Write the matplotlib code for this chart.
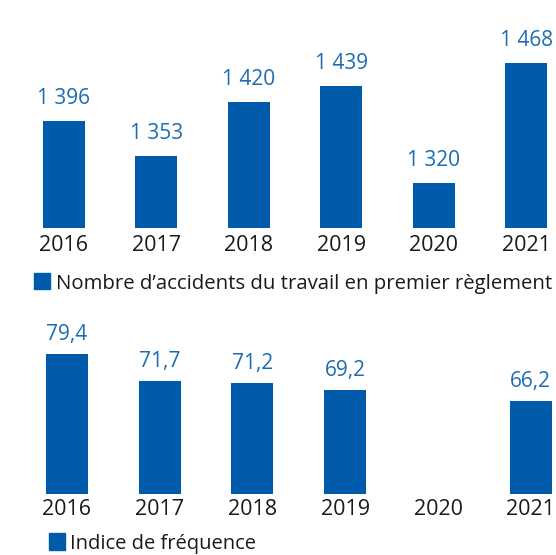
import matplotlib.pyplot as plt
from matplotlib.patches import Rectangle
import numpy as np

plt.rcParams['font.family'] = ['Open Sans', 'DejaVu Sans']

# Data
years = ['2016', '2017', '2018', '2019', '2020', '2021']
accidents = [1396, 1353, 1420, 1439, 1320, 1468]
frequency = [79.4, 71.7, 71.2, 69.2, np.nan, 66.2]
accidents_labels = ['1 396', '1 353', '1 420', '1 439', '1 320', '1 468']
frequency_labels = ['79,4', '71,7', '71,2', '69,2', '', '66,2']
legend_top = 'Nombre d\u2019accidents du travail en premier règlement'
legend_bottom = 'Indice de fréquence'

bar_color = '#005BAA'
value_color = '#1C6CB4'
text_color = '#1a1a1a'

W, H = 556, 555
fig = plt.figure(figsize=(W / 100, H / 100), dpi=100)


def fx(px):
    return px / W


def fy(py):
    return 1 - py / H


x = np.arange(len(years))

# Top panel: accidents
ax1 = fig.add_axes([0, fy(228), 1, 228 / H])
ax1.bar(x, accidents, width=0.454, color=bar_color)
ax1.set_xlim(-0.687, 5.319)
ax1.set_ylim(1265, 1545)
for i, v in enumerate(accidents):
    ax1.annotate(accidents_labels[i], (x[i], v), xytext=(0, 12.2),
                 textcoords='offset points', ha='center', va='baseline',
                 fontsize=15, color=value_color)
    ax1.annotate(years[i], (x[i], 0), xycoords=('data', 'axes fraction'),
                 xytext=(0, -16.6), textcoords='offset points',
                 ha='center', va='baseline', fontsize=15.5, color=text_color)
ax1.axis('off')

# Bottom panel: frequency index
ax2 = fig.add_axes([0, fy(494), 1, 194 / H])
ax2.bar(x, frequency, width=0.452, color=bar_color)
ax2.set_xlim(-0.7185, 5.271)
ax2.set_ylim(39.85, 94.65)
for i, v in enumerate(frequency):
    if not np.isnan(v):
        ax2.annotate(frequency_labels[i], (x[i], v), xytext=(0, 10),
                     textcoords='offset points', ha='center', va='baseline',
                     fontsize=15, color=value_color)
    ax2.annotate(years[i], (x[i], 0), xycoords=('data', 'axes fraction'),
                 xytext=(0, -15.1), textcoords='offset points',
                 ha='center', va='baseline', fontsize=15.5, color=text_color)
ax2.axis('off')

# Legends
fig.patches.append(Rectangle((fx(34), fy(289)), 16 / W, 16 / H,
                             transform=fig.transFigure, color=bar_color))
fig.text(fx(56), fy(289), legend_top, fontsize=14.7, color=text_color,
         va='baseline')
fig.patches.append(Rectangle((fx(49), fy(550)), 16 / W, 17 / H,
                             transform=fig.transFigure, color=bar_color))
fig.text(fx(70), fy(549), legend_bottom, fontsize=14.5, color=text_color,
         va='baseline')

fig.savefig('out.png', dpi=100)
